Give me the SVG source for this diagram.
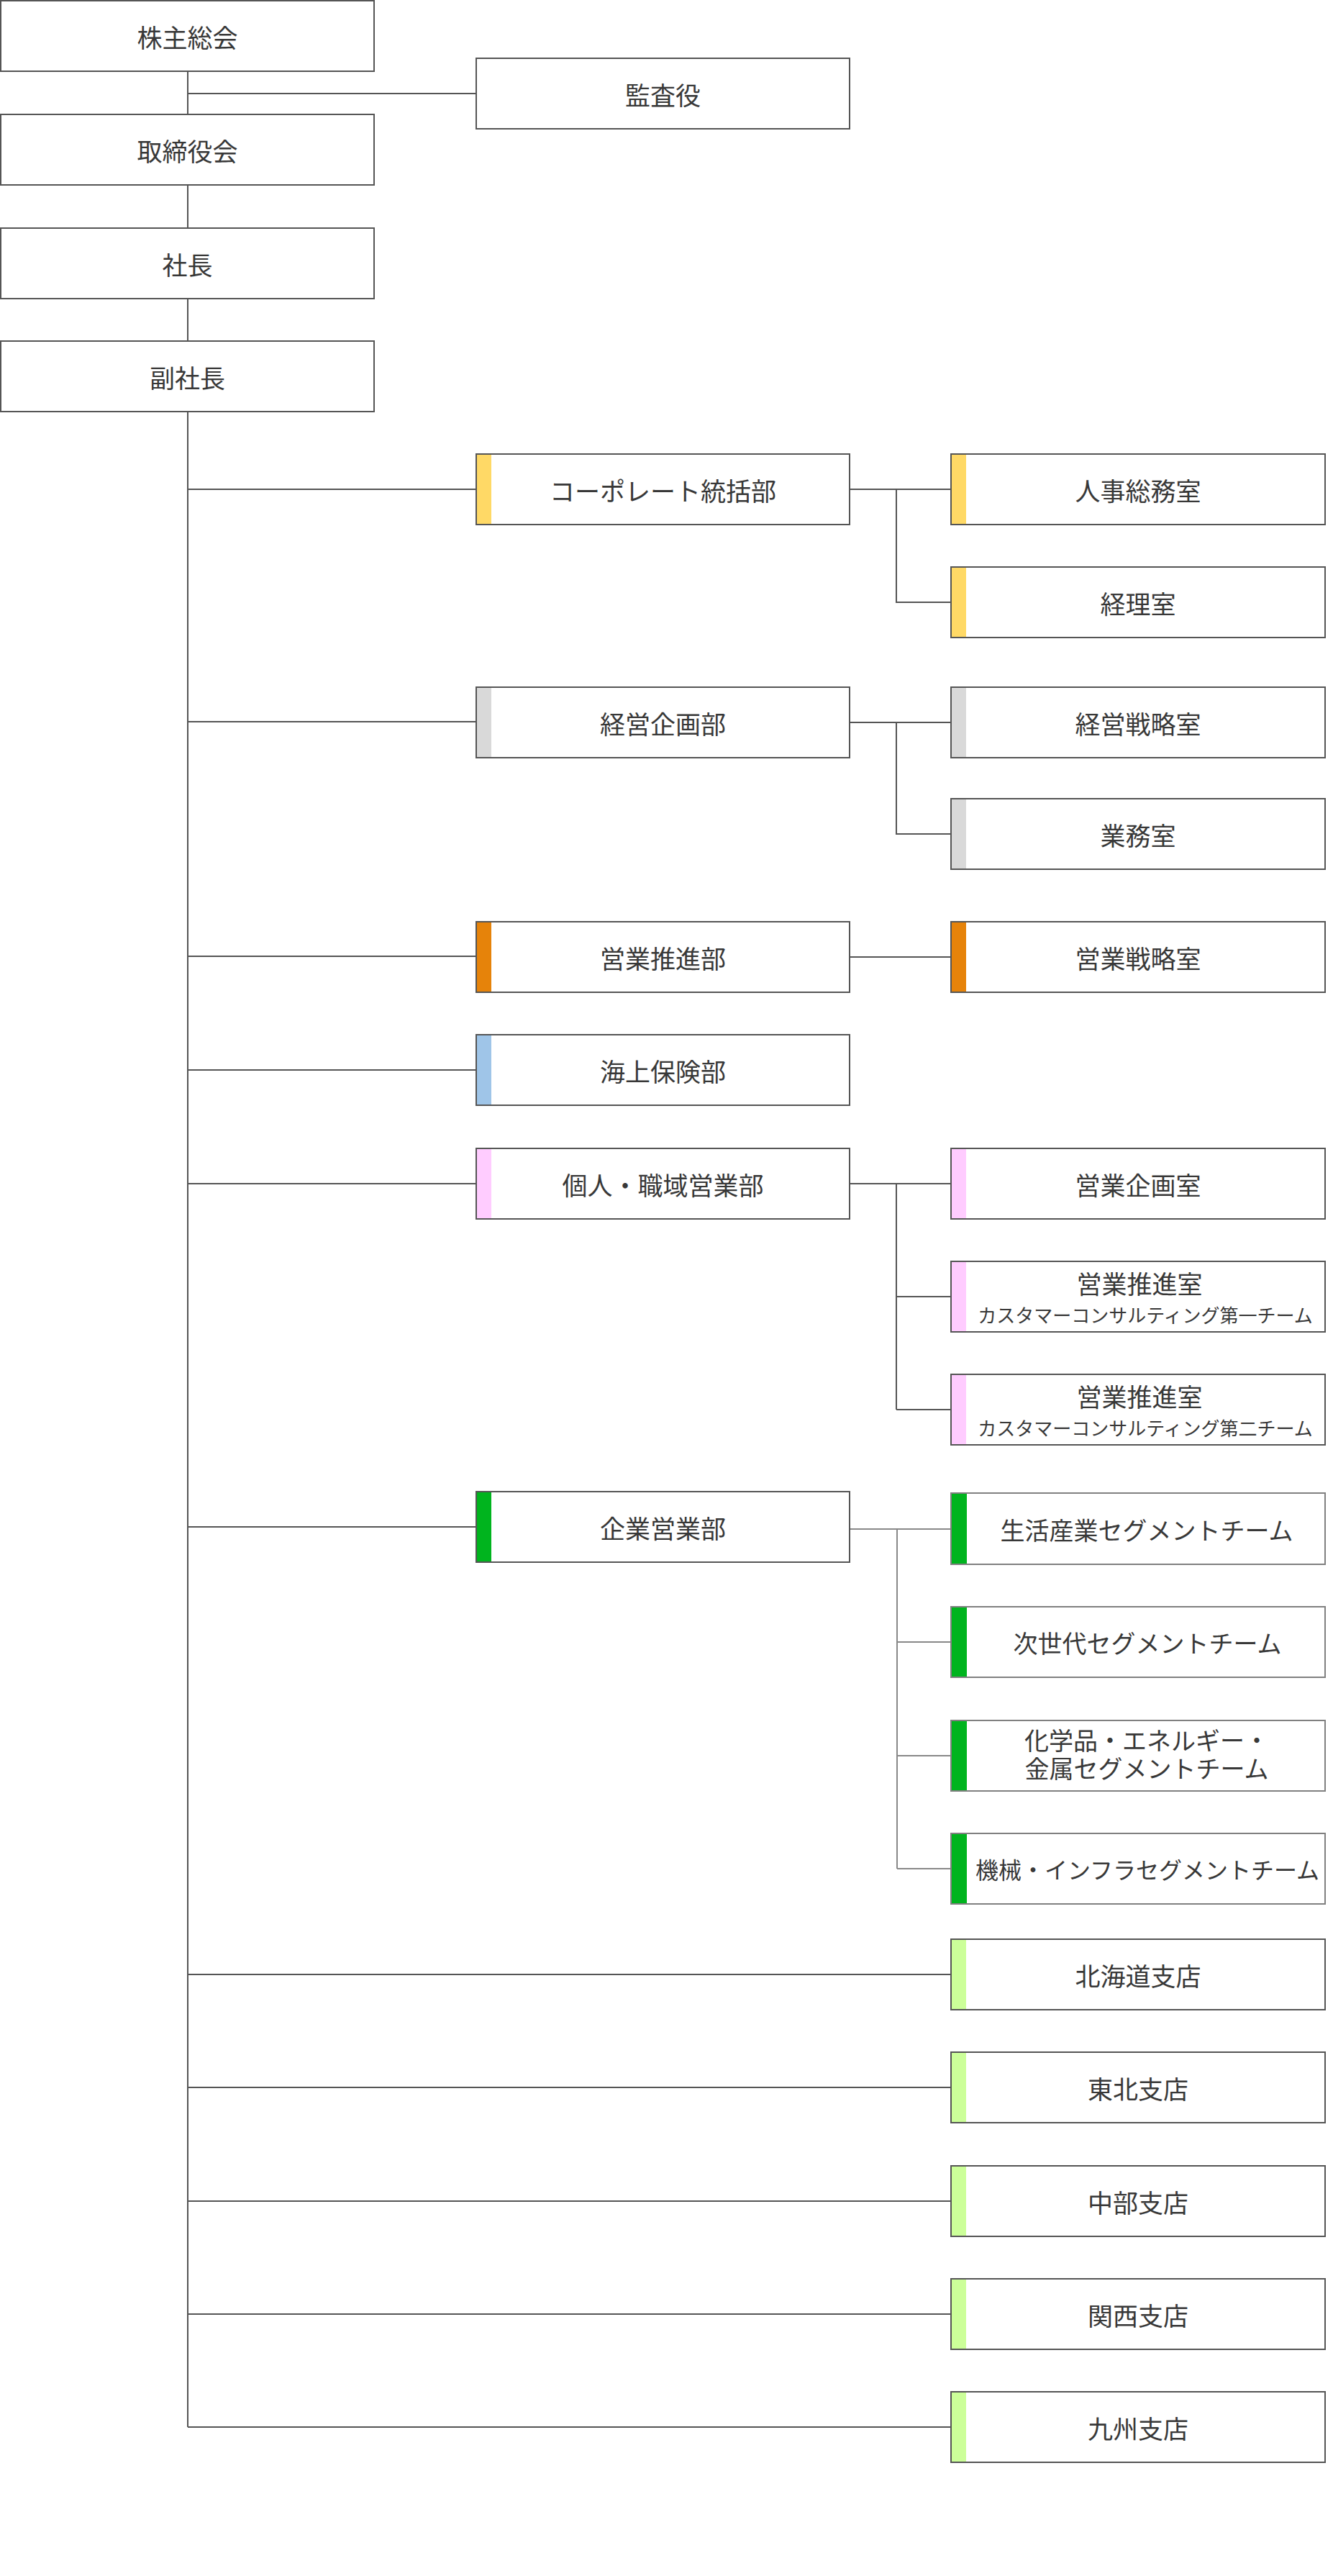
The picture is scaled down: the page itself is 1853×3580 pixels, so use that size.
<svg xmlns="http://www.w3.org/2000/svg" width="1853" height="3580" viewBox="0 0 1853 3580">
<style>
.bx{fill:#fff;stroke:#555;stroke-width:2}
.bxg{fill:#fff;stroke:#808080;stroke-width:2}
.t{font-family:"Noto Sans CJK JP","Noto Sans CJK SC",sans-serif;font-size:35px;fill:#383838;text-anchor:middle;dominant-baseline:central}
.s{font-size:26px}
.m{font-size:34px}
.k{font-size:32px}
.c{fill:none;stroke:#555;stroke-width:2}
.cg{fill:none;stroke:#888;stroke-width:2}
.y{fill:#ffd966}.g{fill:#d9d9d9}.o{fill:#e6830a}.b{fill:#9fc5e8}.p{fill:#ffccff}.gr{fill:#00b41e}.lg{fill:#ccff99}
</style>
<rect width="1853" height="3580" fill="#fff"/>
<g id="connectors">
<path class="c" d="M261 100V158M261 130H661M261 258V316M261 416V473M261 573V3373"/>
<path class="c" d="M261 680H661M261 1003H661M261 1329H661M261 1487H661M261 1645H661M261 2122H661"/>
<path class="c" d="M261 2744H1321M261 2901H1321M261 3059H1321M261 3216H1321M261 3373H1321"/>
<path class="c" d="M1182 680H1321M1246 680V837H1321"/>
<path class="c" d="M1182 1004H1321M1246 1004V1159H1321"/>
<path class="c" d="M1182 1330H1321"/>
<path class="c" d="M1182 1645H1321M1246 1645V1959M1246 1802H1321M1246 1959H1321"/>
<path class="cg" d="M1182 2125H1321M1247 2125V2597M1247 2282H1321M1247 2440H1321M1247 2597H1321"/>
</g>
<g id="n-kabunushi"><rect class="bx" x="1" y="1" width="519" height="98"/><text class="t" x="260.5" y="50">株主総会</text></g>
<g id="n-kansayaku"><rect class="bx" x="662" y="81" width="519" height="98"/><text class="t" x="921.5" y="130">監査役</text></g>
<g id="n-torishimariyakukai"><rect class="bx" x="1" y="159" width="519" height="98"/><text class="t" x="260.5" y="208">取締役会</text></g>
<g id="n-shacho"><rect class="bx" x="1" y="317" width="519" height="98"/><text class="t" x="260.5" y="366">社長</text></g>
<g id="n-fukushacho"><rect class="bx" x="1" y="474" width="519" height="98"/><text class="t" x="260.5" y="523">副社長</text></g>

<g id="n-corporate"><rect class="bx" x="662" y="631" width="519" height="98"/><rect class="y" x="663" y="632" width="20" height="96"/><text class="t" x="921.5" y="680">コーポレート統括部</text></g>
<g id="n-jinji"><rect class="bx" x="1322" y="631" width="520" height="98"/><rect class="y" x="1323" y="632" width="20" height="96"/><text class="t" x="1582" y="680">人事総務室</text></g>
<g id="n-keiri"><rect class="bx" x="1322" y="788" width="520" height="98"/><rect class="y" x="1323" y="789" width="20" height="96"/><text class="t" x="1582" y="837">経理室</text></g>

<g id="n-keiei"><rect class="bx" x="662" y="955" width="519" height="98"/><rect class="g" x="663" y="956" width="20" height="96"/><text class="t" x="921.5" y="1004">経営企画部</text></g>
<g id="n-senryaku"><rect class="bx" x="1322" y="955" width="520" height="98"/><rect class="g" x="1323" y="956" width="20" height="96"/><text class="t" x="1582" y="1004">経営戦略室</text></g>
<g id="n-gyomu"><rect class="bx" x="1322" y="1110" width="520" height="98"/><rect class="g" x="1323" y="1111" width="20" height="96"/><text class="t" x="1582" y="1159">業務室</text></g>

<g id="n-eigyosuishinbu"><rect class="bx" x="662" y="1281" width="519" height="98"/><rect class="o" x="663" y="1282" width="20" height="96"/><text class="t" x="921.5" y="1330">営業推進部</text></g>
<g id="n-eigyosenryaku"><rect class="bx" x="1322" y="1281" width="520" height="98"/><rect class="o" x="1323" y="1282" width="20" height="96"/><text class="t" x="1582" y="1330">営業戦略室</text></g>

<g id="n-kaijo"><rect class="bx" x="662" y="1438" width="519" height="98"/><rect class="b" x="663" y="1439" width="20" height="96"/><text class="t" x="921.5" y="1487">海上保険部</text></g>

<g id="n-kojin"><rect class="bx" x="662" y="1596" width="519" height="98"/><rect class="p" x="663" y="1597" width="20" height="96"/><text class="t" x="921.5" y="1645">個人・職域営業部</text></g>
<g id="n-eigyokikaku"><rect class="bx" x="1322" y="1596" width="520" height="98"/><rect class="p" x="1323" y="1597" width="20" height="96"/><text class="t" x="1582" y="1645">営業企画室</text></g>
<g id="n-suishin1"><rect class="bx" x="1322" y="1753" width="520" height="98"/><rect class="p" x="1323" y="1754" width="20" height="96"/><text class="t"><tspan x="1584" y="1782">営業推進室</tspan><tspan class="s" x="1592" y="1826">カスタマーコンサルティング第一チーム</tspan></text></g>
<g id="n-suishin2"><rect class="bx" x="1322" y="1910" width="520" height="98"/><rect class="p" x="1323" y="1911" width="20" height="96"/><text class="t"><tspan x="1584" y="1939">営業推進室</tspan><tspan class="s" x="1592" y="1983">カスタマーコンサルティング第二チーム</tspan></text></g>

<g id="n-kigyo"><rect class="bx" x="662" y="2073" width="519" height="98"/><rect class="gr" x="663" y="2074" width="20" height="96"/><text class="t" x="921.5" y="2122">企業営業部</text></g>
<g id="n-seikatsu"><rect class="bxg" x="1322" y="2075" width="520" height="99"/><rect class="gr" x="1323" y="2076" width="21" height="97"/><text class="t m" x="1594" y="2125">生活産業セグメントチーム</text></g>
<g id="n-jisedai"><rect class="bxg" x="1322" y="2233" width="520" height="98"/><rect class="gr" x="1323" y="2234" width="21" height="96"/><text class="t m" x="1595" y="2282">次世代セグメントチーム</text></g>
<g id="n-kagaku"><rect class="bxg" x="1322" y="2391" width="520" height="98"/><rect class="gr" x="1323" y="2392" width="21" height="96"/><text class="t m"><tspan x="1594" y="2417">化学品・エネルギー・</tspan><tspan x="1594" y="2456">金属セグメントチーム</tspan></text></g>
<g id="n-kikai"><rect class="bxg" x="1322" y="2548" width="520" height="98"/><rect class="gr" x="1323" y="2549" width="21" height="96"/><text class="t k" x="1595" y="2597">機械・インフラセグメントチーム</text></g>

<g id="n-hokkaido"><rect class="bx" x="1322" y="2695" width="520" height="98"/><rect class="lg" x="1323" y="2696" width="20" height="96"/><text class="t" x="1582" y="2744">北海道支店</text></g>
<g id="n-tohoku"><rect class="bx" x="1322" y="2852" width="520" height="98"/><rect class="lg" x="1323" y="2853" width="20" height="96"/><text class="t" x="1582" y="2901">東北支店</text></g>
<g id="n-chubu"><rect class="bx" x="1322" y="3010" width="520" height="98"/><rect class="lg" x="1323" y="3011" width="20" height="96"/><text class="t" x="1582" y="3059">中部支店</text></g>
<g id="n-kansai"><rect class="bx" x="1322" y="3167" width="520" height="98"/><rect class="lg" x="1323" y="3168" width="20" height="96"/><text class="t" x="1582" y="3216">関西支店</text></g>
<g id="n-kyushu"><rect class="bx" x="1322" y="3324" width="520" height="98"/><rect class="lg" x="1323" y="3325" width="20" height="96"/><text class="t" x="1582" y="3373">九州支店</text></g>
</svg>
